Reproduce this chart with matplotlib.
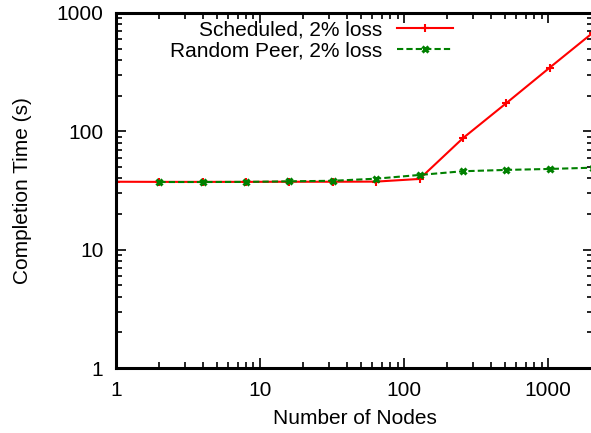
import matplotlib
matplotlib.use("Agg")
import matplotlib.pyplot as plt
from matplotlib.ticker import LogLocator, NullFormatter, FixedLocator, FixedFormatter

plt.rcParams['font.family'] = ['Liberation Sans', 'DejaVu Sans']

# data
nodes_sched = [1, 2, 4, 8, 16, 32, 64, 128, 256, 512, 1024, 2048]
time_sched = [37.5, 37.4, 37.4, 37.4, 37.5, 37.5, 37.6, 39.6, 87.5, 173, 345, 683]
nodes_rand = [2, 4, 8, 16, 32, 64, 128, 256, 512, 1024, 2048]
time_rand = [37.3, 37.3, 37.4, 37.8, 38.2, 39.8, 42.8, 46.0, 47.2, 48.1, 49.3]

x_ticks = [1, 10, 100, 1000]
y_ticks = [1, 10, 100, 1000]

W, H = 591, 433
fig = plt.figure(figsize=(W / 100, H / 100), dpi=100)
left, right, top, bottom = 116, 593, 13, 368
ax = fig.add_axes([left / W, (H - bottom) / H, (right - left) / W, (bottom - top) / H])

ax.plot(nodes_sched, time_sched, color="#ff0000", lw=1.5, marker="+", ms=6, mew=1.5,
        label="Scheduled, 2% loss")
ax.plot(nodes_rand, time_rand, color="#008000", lw=1.5, ls=(0, (3, 1.5)), marker="x",
        ms=5, mew=2.2, label="Random Peer, 2% loss")

ax.set_xscale("log")
ax.set_yscale("log")
ax.set_xlim(1, 2048)
ax.set_ylim(1, 1000)

ax.xaxis.set_major_locator(FixedLocator(x_ticks))
ax.xaxis.set_major_formatter(FixedFormatter([str(v) for v in x_ticks]))
ax.yaxis.set_major_locator(FixedLocator(y_ticks))
ax.yaxis.set_major_formatter(FixedFormatter([str(v) for v in y_ticks]))
ax.xaxis.set_minor_locator(LogLocator(base=10, subs=range(2, 10), numticks=20))
ax.yaxis.set_minor_locator(LogLocator(base=10, subs=range(2, 10), numticks=20))
ax.xaxis.set_minor_formatter(NullFormatter())
ax.yaxis.set_minor_formatter(NullFormatter())

ax.tick_params(which="both", direction="in", top=True, right=True, labelsize=15, width=1.2)
ax.tick_params(which="major", length=7, pad=9)
ax.tick_params(which="minor", length=4)
for s in ax.spines.values():
    s.set_linewidth(2.2)

ax.set_xlabel("Number of Nodes", fontsize=15, labelpad=7)
ax.set_ylabel("Completion Time (s)", fontsize=15, labelpad=18)

ax.legend(loc="upper right", bbox_to_anchor=(0.7065, 0.98), frameon=False, markerfirst=False,
          fontsize=15, handlelength=2.7, handletextpad=0.7, labelspacing=0.1,
          borderaxespad=0, borderpad=0)

fig.savefig("out.png", dpi=100)
